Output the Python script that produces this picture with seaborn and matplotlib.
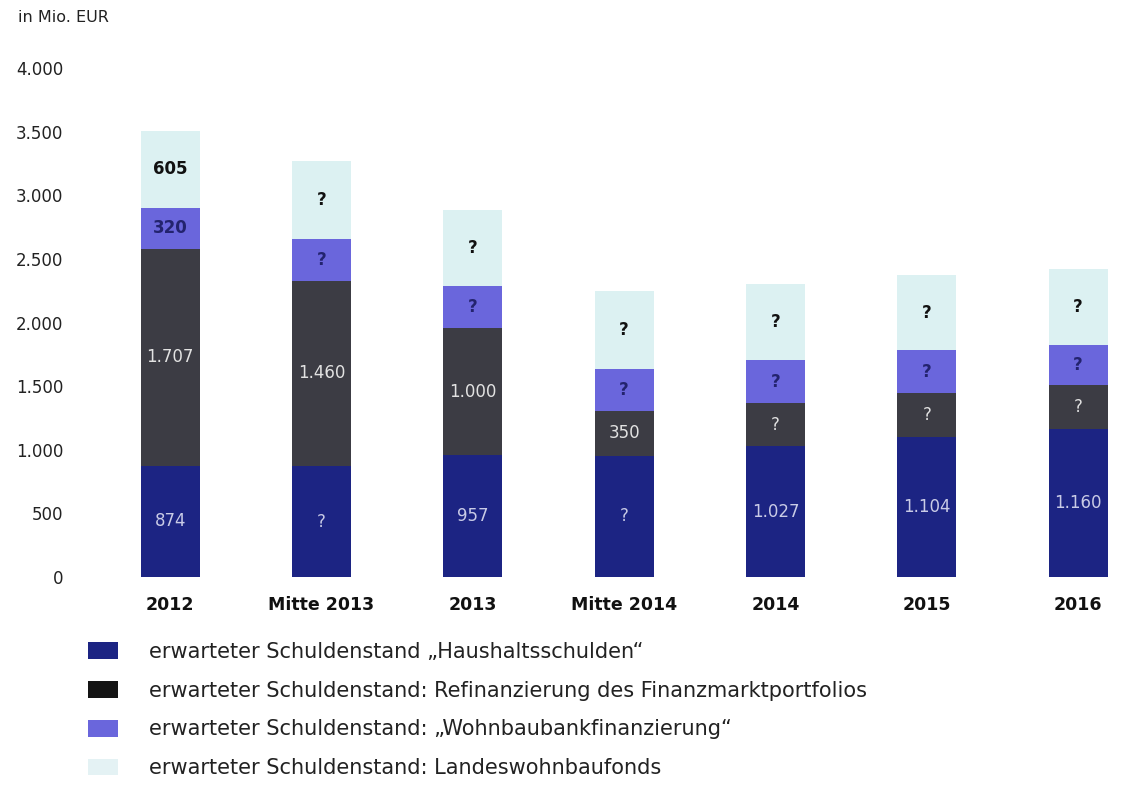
import numpy as np
import pandas as pd
import matplotlib
matplotlib.use("Agg")
import matplotlib.pyplot as plt
from matplotlib.patches import Patch
from matplotlib.ticker import FuncFormatter
import seaborn as sns

# Zeitpunkte
categories = ["2012", "Mitte 2013", "2013", "Mitte 2014", "2014", "2015", "2016"]

# Schuldenstände in Mio. EUR (je Komponente)
haushalt = [874, 870, 957, 955, 1027, 1104, 1160]
refinanzierung = [1707, 1460, 1000, 350, 342, 342, 348]
wohnbaubank = [320, 330, 330, 333, 334, 335, 319]
landesfonds = [605, 610, 600, 607, 600, 590, 595]

# Beschriftungen in den Segmenten
haushalt_labels = ["874", "?", "957", "?", "1.027", "1.104", "1.160"]
refinanzierung_labels = ["1.707", "1.460", "1.000", "350", "?", "?", "?"]
wohnbaubank_labels = ["320", "?", "?", "?", "?", "?", "?"]
landesfonds_labels = ["605", "?", "?", "?", "?", "?", "?"]

series_names = [
    "erwarteter Schuldenstand \u201eHaushaltsschulden\u201c",
    "erwarteter Schuldenstand: Refinanzierung des Finanzmarktportfolios",
    "erwarteter Schuldenstand: \u201eWohnbaubankfinanzierung\u201c",
    "erwarteter Schuldenstand: Landeswohnbaufonds",
]

colors = ["#1c2483", "#3c3c44", "#6a66dc", "#dcf1f2"]
legend_colors = ["#1c2483", "#141414", "#6a66dc", "#e4f2f4"]
label_colors = ["#c9cbe6", "#e2e2e2", "#23236e", "#111111"]
label_weights = ["normal", "normal", "bold", "bold"]

sns.set_theme(style="white")
plt.rcParams["font.family"] = ["DejaVu Sans"]

fig = plt.figure(figsize=(11.25, 7.99), dpi=100)
ax = fig.add_axes([0.0773, 0.2778, 1 - 0.0773, 0.6371])

layers = [haushalt, refinanzierung, wohnbaubank, landesfonds]
layer_labels = [haushalt_labels, refinanzierung_labels, wohnbaubank_labels, landesfonds_labels]

bottom = np.zeros(len(categories))
for i, (vals, labs) in enumerate(zip(layers, layer_labels)):
    df = pd.DataFrame({"Zeitpunkt": categories, "Wert": vals})
    n_before = len(ax.containers)
    sns.barplot(data=df, x="Zeitpunkt", y="Wert", color=colors[i],
                saturation=1, width=0.39, bottom=bottom, ax=ax,
                edgecolor="none", linewidth=0, errorbar=None)
    cont = ax.containers[n_before]
    ax.bar_label(cont, labels=labs, label_type="center", color=label_colors[i],
                 fontsize=12, fontweight=label_weights[i])
    bottom = bottom + np.array(vals)

ax.set_ylim(0, 4000)
ax.set_xlim(-0.55, 6.31)
ax.set_yticks(np.arange(0, 4001, 500))
ax.yaxis.set_major_formatter(FuncFormatter(lambda v, p: f"{int(v):,}".replace(",", ".")))
ax.set_xlabel("")
ax.set_ylabel("")
sns.despine(ax=ax, left=True, bottom=True)
ax.tick_params(axis="y", length=0, pad=17, labelsize=12, labelcolor="#222222")
ax.tick_params(axis="x", length=0, pad=14, labelsize=12.5, labelcolor="#111111")
for t in ax.get_xticklabels():
    t.set_fontweight("bold")

fig.text(0.016, 0.988, "in Mio. EUR", fontsize=11.5, color="#222222", va="top", ha="left")

handles = [Patch(facecolor=c, edgecolor="none") for c in legend_colors]
fig.legend(handles, series_names, loc="upper left", bbox_to_anchor=(0.071, 0.207),
           frameon=False, fontsize=15, handlelength=1.45, handleheight=0.85,
           handletextpad=1.45, labelspacing=0.9, labelcolor="#222222",
           borderaxespad=0)

fig.savefig("out.png", dpi=100, facecolor="white")
